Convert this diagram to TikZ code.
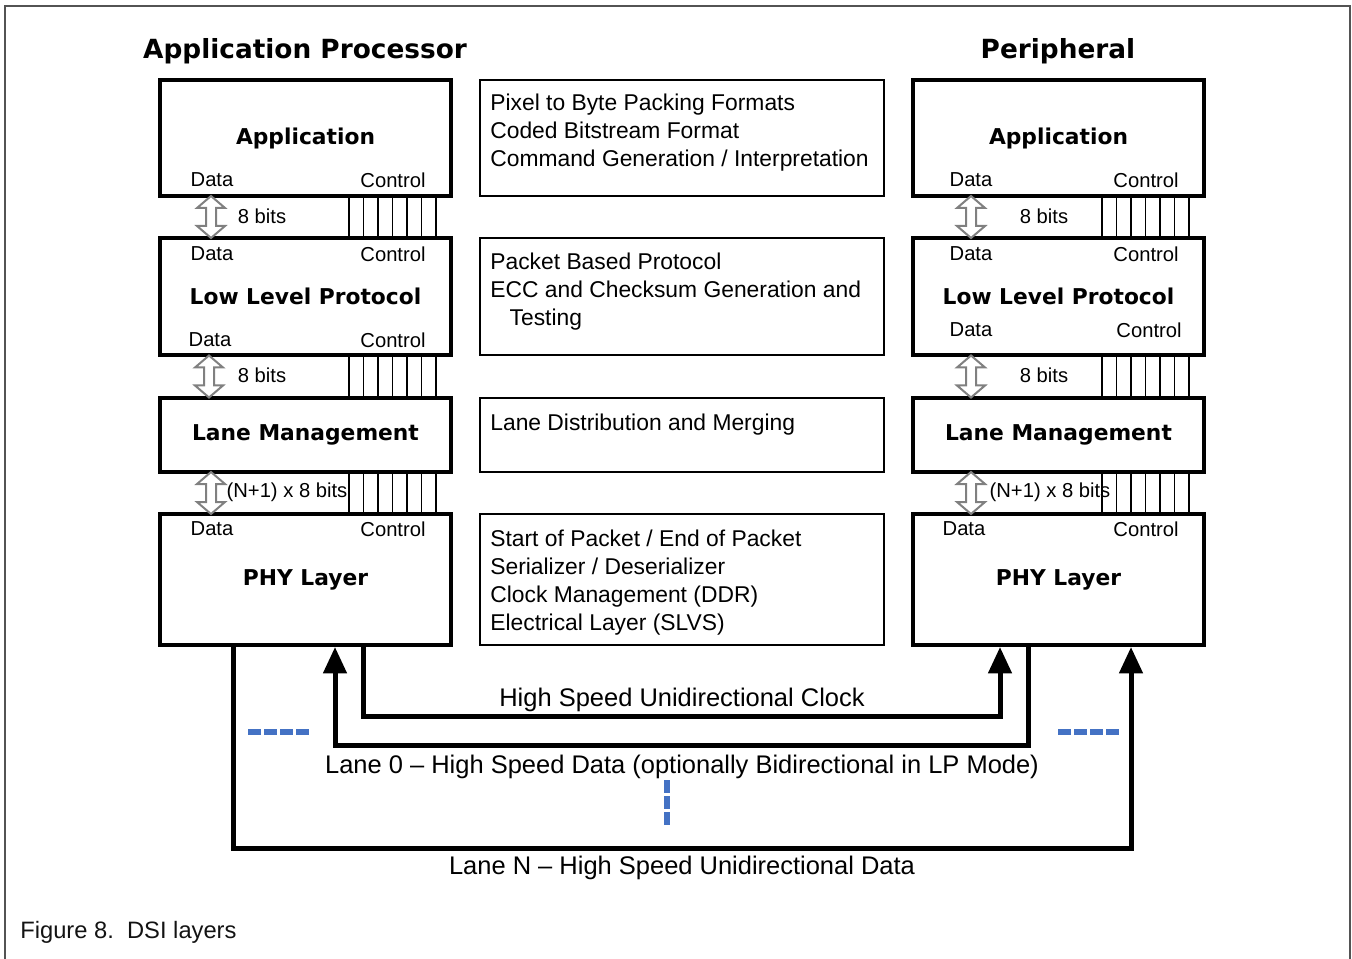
\documentclass[tikz,border=0pt]{standalone}
\usepackage{fontspec}
\setmainfont{Liberation Sans}
\newfontfamily\titlefont{DejaVu Sans}
\usetikzlibrary{calc,arrows.meta,positioning}
\newlength{\pxu}
\setlength{\pxu}{0.02cm}
\definecolor{dotblue}{HTML}{4472C4}

\begin{document}
\begin{tikzpicture}[x=0.02cm,y=-0.02cm,
    layer/.style={draw,line width=4\pxu,minimum width=291\pxu,font=\titlefont\bfseries\fontsize{12.4}{14}\selectfont},
    info/.style={draw,line width=1.5\pxu,minimum width=404\pxu},
    infotext/.style={anchor=north west,align=left,inner sep=0,font=\fontsize{13}{15.9}\selectfont},
    port/.style={inner sep=0,font=\fontsize{11.5}{13}\selectfont},
    heading/.style={inner sep=0,font=\titlefont\bfseries\fontsize{15}{17}\selectfont},
    lanelabel/.style={inner sep=0,font=\fontsize{14.5}{16}\selectfont},
    ctrl/.style={line width=1.5\pxu},
    bus/.style={line width=5\pxu},
    busarrow/.style={-{Triangle[length=15pt,width=13pt]}},
    dots/.style={dotblue,line width=6\pxu,dash pattern=on 13\pxu off 3\pxu},
    pics/dblarrow/.style={code={
        \draw[gray,fill=white,line width=2\pxu] (0,-21) -- (14,-9) -- (5,-9) -- (5,9) -- (14,9) -- (0,21)
            -- (-14,9) -- (-5,9) -- (-5,-9) -- (-14,-9) -- cycle;}}]
    \useasboundingbox (0,0) rectangle (1352,959);
    \draw[gray!65!black,line width=2\pxu] (5,959) -- (5,6) -- (1350,6) -- (1350,959);

    \node at (305,51) [heading] (h_ap) {Application Processor};
    \node at (1058,51) [heading] (h_per) {Peripheral};

    % application processor side
    \node at (305.5,138) [layer,minimum height=116\pxu] (l_app) {Application};
    \node at (305.5,296.5) [layer,minimum height=117\pxu] (l_llp) {Low Level Protocol};
    \node at (305.5,435) [layer,minimum height=74\pxu] (l_lane) {Lane Management};
    \node at (305.5,579.5) [layer,minimum height=131\pxu] (l_phy) {PHY Layer};

    \node at (212,180) [port] (l_app_d) {Data};
    \node at (393,180) [port] (l_app_c) {Control};
    \node at (212,254) [port] (l_llp_d1) {Data};
    \node at (393,254) [port] (l_llp_c1) {Control};
    \node at (210,340) [port] (l_llp_d2) {Data};
    \node at (393,340) [port] (l_llp_c2) {Control};
    \node at (212,529) [port] (l_phy_d) {Data};
    \node at (393,529) [port] (l_phy_c) {Control};

    % peripheral side
    \node at (1058.5,138) [layer,minimum height=116\pxu] (r_app) {Application};
    \node at (1058.5,296.5) [layer,minimum height=117\pxu] (r_llp) {Low Level Protocol};
    \node at (1058.5,435) [layer,minimum height=74\pxu] (r_lane) {Lane Management};
    \node at (1058.5,579.5) [layer,minimum height=131\pxu] (r_phy) {PHY Layer};

    \node at (971,180) [port] (r_app_d) {Data};
    \node at (1146,180) [port] (r_app_c) {Control};
    \node at (971,254) [port] (r_llp_d1) {Data};
    \node at (1146,254) [port] (r_llp_c1) {Control};
    \node at (971,330) [port] (r_llp_d2) {Data};
    \node at (1149,330) [port] (r_llp_c2) {Control};
    \node at (964,529) [port] (r_phy_d) {Data};
    \node at (1146,529) [port] (r_phy_c) {Control};

    % data paths
    \pic at ($(l_app.south west)!0.5!(l_llp.north west)+(53,0)$) {dblarrow};
    \pic at ($(l_llp.south west)!0.5!(l_lane.north west)+(51,0)$) {dblarrow};
    \pic at ($(l_lane.south west)!0.5!(l_phy.north west)+(53,0)$) {dblarrow};
    \pic at ($(r_app.south west)!0.5!(r_llp.north west)+(60,0)$) {dblarrow};
    \pic at ($(r_llp.south west)!0.5!(r_lane.north west)+(60,0)$) {dblarrow};
    \pic at ($(r_lane.south west)!0.5!(r_phy.north west)+(60,0)$) {dblarrow};

    \node at (262,216) [port] (l_bits1) {8 bits};
    \node at (262,375) [port] (l_bits2) {8 bits};
    \node at (287,492) [port] (l_bits3) {(N+1) x 8 bits};
    \node at (1044,216) [port] (r_bits1) {8 bits};
    \node at (1044,375) [port] (r_bits2) {8 bits};
    \node at (1050,492) [port] (r_bits3) {(N+1) x 8 bits};

    % control lines
    \foreach \i in {0,...,6} {
        \draw[ctrl] (349+14.5*\i,0 |- l_app.south) -- (349+14.5*\i,0 |- l_llp.north);
        \draw[ctrl] (349+14.5*\i,0 |- l_llp.south) -- (349+14.5*\i,0 |- l_lane.north);
        \draw[ctrl] (349+14.5*\i,0 |- l_lane.south) -- (349+14.5*\i,0 |- l_phy.north);
        \draw[ctrl] (1102+14.5*\i,0 |- r_app.south) -- (1102+14.5*\i,0 |- r_llp.north);
        \draw[ctrl] (1102+14.5*\i,0 |- r_llp.south) -- (1102+14.5*\i,0 |- r_lane.north);
        \draw[ctrl] (1102+14.5*\i,0 |- r_lane.south) -- (1102+14.5*\i,0 |- r_phy.north);
    }

    % functions of each layer
    \node at (682,138) [info,minimum height=116\pxu] (m_app) {};
    \node at (682,296.5) [info,minimum height=117\pxu] (m_llp) {};
    \node at (682,435) [info,minimum height=74\pxu] (m_lane) {};
    \node at (682,579.5) [info,minimum height=131\pxu] (m_phy) {};

    \node at (490,94) [infotext] (t_app) {Pixel to Byte Packing Formats\\Coded Bitstream Format\\Command Generation / Interpretation};
    \node at (490,253) [infotext] (t_llp) {Packet Based Protocol\\ECC and Checksum Generation and\\\hspace*{11pt}Testing};
    \node at (490,414) [infotext] (t_lane) {Lane Distribution and Merging};
    \node at (490,530) [infotext] (t_phy) {Start of Packet / End of Packet\\Serializer / Deserializer\\Clock Management (DDR)\\Electrical Layer (SLVS)};

    % lanes
    \draw[bus,busarrow] (363,0 |- l_phy.south) |- (1000,716) -- (1000,0 |- r_phy.south);
    \draw[bus,busarrow] (1028,0 |- r_phy.south) |- (335,745) -- (335,0 |- l_phy.south);
    \draw[bus,busarrow] (233,0 |- l_phy.south) |- (1131,848) -- (1131,0 |- r_phy.south);

    \node at (682,700) [lanelabel] (clk) {High Speed Unidirectional Clock};
    \node at (682,767) [lanelabel] (lane0) {Lane 0 -- High Speed Data (optionally Bidirectional in LP Mode)};
    \node at (682,868) [lanelabel] (laneN) {Lane N -- High Speed Unidirectional Data};

    \draw[dots] (248,732) -- (309,732);
    \draw[dots] (1058,732) -- (1119,732);
    \draw[dots] (667,780) -- (667,825);

    \node at (20,932) [anchor=west,inner sep=0,text=gray!15!black,font=\fontsize{13.5}{15}\selectfont] (caption) {Figure 8.\ \ DSI layers};
\end{tikzpicture}
\end{document}
